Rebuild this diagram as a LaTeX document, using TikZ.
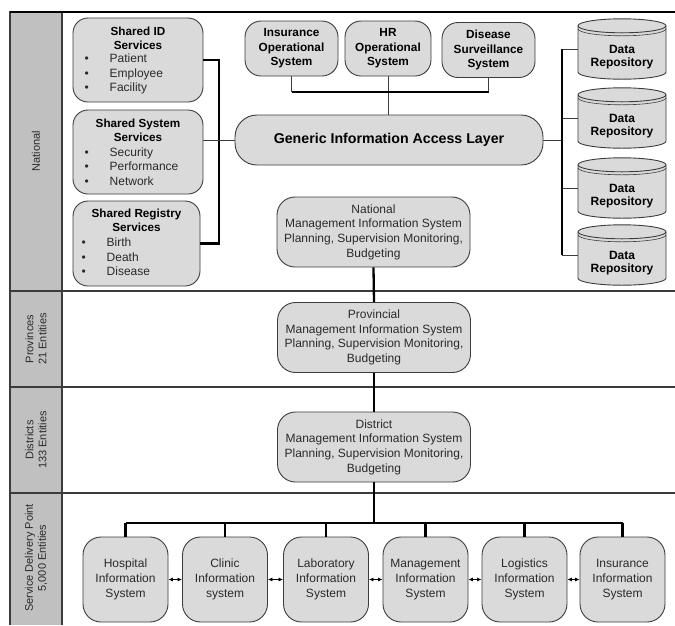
\documentclass[tikz,border=0pt]{standalone}
\usepackage{fontspec}
\setmainfont{Liberation Sans}
\usetikzlibrary{arrows.meta,calc}

\definecolor{boxfill}{HTML}{DADADA}
\definecolor{lanefill}{HTML}{C0C0C0}
\definecolor{edge}{HTML}{3C3C3C}
\definecolor{ink}{HTML}{2A2A2A}

\tikzset{
  box/.style={draw=edge, fill=boxfill, line width=0.9pt, rounded corners=15pt,
    inner sep=0pt, align=center},
  opsys/.style={box, minimum height=55pt, rounded corners=16pt,
    font=\fontsize{11.8}{14.5}\selectfont\bfseries},
  mis/.style={box, minimum width=193pt, minimum height=70pt, rounded corners=18pt,
    font=\fontsize{12}{14.7}\selectfont, text=ink},
  sdp/.style={box, minimum width=85pt, minimum height=85pt, rounded corners=18pt,
    font=\fontsize{12}{15}\selectfont, text=ink},
  svc/.style={box, minimum width=130pt, minimum height=84pt},
  svctitle/.style={align=center, inner sep=0pt, font=\fontsize{11.7}{14}\selectfont\bfseries},
  svclist/.style={align=left, inner sep=0pt, anchor=west,
    font=\fontsize{12}{14.3}\selectfont, text=ink},
  lanelbl/.style={rotate=90, align=center, inner sep=0pt,
    font=\fontsize{11}{13}\selectfont, text=ink},
  laneline/.style={draw=edge, line width=1.1pt},
  bus/.style={line width=2.3pt, draw=black},
  link/.style={line width=0.8pt, draw=edge},
  peer/.style={line width=0.8pt, draw=black,
    {Latex[length=4.5pt,width=4pt]}-{Latex[length=4.5pt,width=4pt]}},
  repo/.style={minimum width=88pt, minimum height=60pt, inner sep=0pt},
  repolbl/.style={align=center, inner sep=0pt, font=\fontsize{12}{13.5}\selectfont\bfseries},
  cyl/.style={draw=edge, fill=boxfill, line width=0.9pt},
}

% database drum drawn round a repository node
\newcommand\repodrum[1]{%
  \filldraw[cyl] ([shift={(-44pt,-7pt)}]#1.north)
    -- ([shift={(-44pt,7pt)}]#1.south)
    arc[start angle=180, end angle=360, x radius=44pt, y radius=7pt]
    -- ([shift={(44pt,-7pt)}]#1.north)
    arc[start angle=0, end angle=180, x radius=44pt, y radius=7pt] -- cycle;
  \draw[cyl, fill=none] ([shift={(-44pt,-7pt)}]#1.north)
    arc[start angle=180, end angle=360, x radius=44pt, y radius=7pt];
  \draw[cyl, fill=none, line width=0.6pt] ([shift={(-44pt,-10pt)}]#1.north)
    arc[start angle=180, end angle=360, x radius=44pt, y radius=7pt];
}

\begin{document}
\begin{tikzpicture}[x=1pt, y=1pt]
\useasboundingbox (0,0) rectangle (675,-625);

% swim-lane frame
\filldraw[fill=lanefill, draw=edge, line width=1.1pt]
  (10,-625) -- (10,-12) -- (62,-12) -- (62,-625);
\draw[line width=1.2pt] (10,-12) -- (675,-12);
\draw[laneline] (10,-291) -- (675,-291);
\draw[laneline] (10,-387) -- (675,-387);
\draw[laneline] (10,-493) -- (675,-493);

\node[lanelbl] (lnat)  at (36,-151) {National};
\node[lanelbl] (lprov) at (36,-339) {Provinces\\21 Entities};
\node[lanelbl] (ldist) at (36,-440) {Districts\\133 Entities};
\node[lanelbl] (lsdp)  at (36,-558) {Service Delivery Point\\5,000 Entities};

% shared services
\node[svc] (sid) at (138,-60) {};
\node[svctitle] (sidt) at (138,-38.5) {Shared ID\\Services};
\node[svclist] (sidl) at (84.5,-74) {\makebox[25pt][l]{\textbullet}Patient\\
  \makebox[25pt][l]{\textbullet}Employee\\\makebox[25pt][l]{\textbullet}Facility};

\node[svc] (ssys) at (138,-152) {};
\node[svctitle] (ssyst) at (138,-130) {Shared System\\Services};
\node[svclist] (ssysl) at (84.5,-166.5) {\makebox[25pt][l]{\textbullet}Security\\
  \makebox[25pt][l]{\textbullet}Performance\\\makebox[25pt][l]{\textbullet}Network};

\node[svc, minimum width=127pt, minimum height=85pt] (sreg) at (136.5,-243.5) {};
\node[svctitle] (sregt) at (136.5,-220.5) {Shared Registry\\Services};
\node[svclist] (sregl) at (81.5,-257) {\makebox[25pt][l]{\textbullet}Birth\\
  \makebox[25pt][l]{\textbullet}Death\\\makebox[25pt][l]{\textbullet}Disease};

% operational systems and access layer
\node[opsys, minimum width=93pt] (ins) at (291.5,-48.5) {Insurance\\Operational\\System};
\node[opsys, minimum width=86pt] (hr)  at (388,-48.5)  {HR\\Operational\\System};
\node[opsys, minimum width=93pt] (dis) at (488.5,-50)  {Disease\\Surveillance\\System};

\node[box, minimum width=308pt, minimum height=50pt, rounded corners=22pt,
  font=\fontsize{14.2}{16}\selectfont\bfseries] (gal) at (389,-140)
  {Generic Information Access Layer};

% data repositories
\node[repo] (repo1) at (622,-49) {};
\repodrum{repo1}
\node[repolbl] (repo1t) at ([yshift=-8pt]repo1.center) {Data\\Repository};
\node[repo] (repo2) at (622,-118) {};
\repodrum{repo2}
\node[repolbl] (repo2t) at ([yshift=-8pt]repo2.center) {Data\\Repository};
\node[repo] (repo3) at (622,-188) {};
\repodrum{repo3}
\node[repolbl] (repo3t) at ([yshift=-8pt]repo3.center) {Data\\Repository};
\node[repo] (repo4) at (622,-255) {};
\repodrum{repo4}
\node[repolbl] (repo4t) at ([yshift=-8pt]repo4.center) {Data\\Repository};

% management information systems
\node[mis] (nmis) at (373.5,-232) {National\\Management Information System\\Planning, Supervision Monitoring,\\Budgeting};
\node[mis] (pmis) at (374,-337.5) {Provincial\\Management Information System\\Planning, Supervision Monitoring,\\Budgeting};
\node[mis] (dmis) at (374,-447) {District\\Management Information System\\Planning, Supervision Monitoring,\\Budgeting};

% service delivery point systems
\node[sdp] (hosp) at (125.5,-579.5) {Hospital\\Information\\System};
\node[sdp] (clin) at (225,-579.5)   {Clinic\\Information\\system};
\node[sdp] (lab)  at (326,-579.5)   {Laboratory\\Information\\System};
\node[sdp] (mgmt) at (425.5,-579.5) {Management\\Information\\System};
\node[sdp] (logi) at (524.5,-579.5) {Logistics\\Information\\System};
\node[sdp] (insu) at (622.5,-579.5) {Insurance\\Information\\System};

% connectors: shared services bracket
\coordinate (brk) at (219,0);
\draw[bus] (sid.east) -- (sid.east -| brk) -- (sreg.east -| brk) -- (sreg.east);
\draw[link] (ssys.east |- gal.west) -- (gal.west);

% connectors: operational systems
\coordinate (opbus) at (0,-92);
\draw[link] (ins.south) -- (ins.south |- opbus);
\draw[link] (dis.south) -- (dis.south |- opbus);
\draw[link] (hr.south) -- (hr.south |- gal.north);
\draw[bus] (ins.south |- opbus) -- (dis.south |- opbus);

% connectors: repositories
\coordinate (rbar) at (562,0);
\draw[link] (gal.east) -- (gal.east -| rbar);
\draw[link] (rbar |- repo1.west) -- (repo1.west);
\draw[link] (rbar |- repo2.west) -- (repo2.west);
\draw[link] (rbar |- repo3.west) -- (repo3.west);
\draw[link] (rbar |- repo4.west) -- (repo4.west);
\draw[bus] (rbar |- repo1.west) -- (rbar |- repo4.west);

% connectors: hierarchy
\draw[bus] (nmis.south) -- (pmis.north);
\draw[bus] (pmis.south) -- (dmis.north);
\coordinate (sbus) at (0,-523);
\draw[bus] (dmis.south) -- (dmis.south |- sbus);
\draw[bus] (hosp.north |- sbus) -- (insu.north |- sbus);
\foreach \n in {hosp,clin,lab,mgmt,logi,insu}
  \draw[bus] (\n.north) -- (\n.north |- sbus);

% peer exchange
\draw[peer] (hosp.east) -- (clin.west);
\draw[peer] (clin.east) -- (lab.west);
\draw[peer] (lab.east) -- (mgmt.west);
\draw[peer] (mgmt.east) -- (logi.west);
\draw[peer] (logi.east) -- (insu.west);
\end{tikzpicture}
\end{document}
